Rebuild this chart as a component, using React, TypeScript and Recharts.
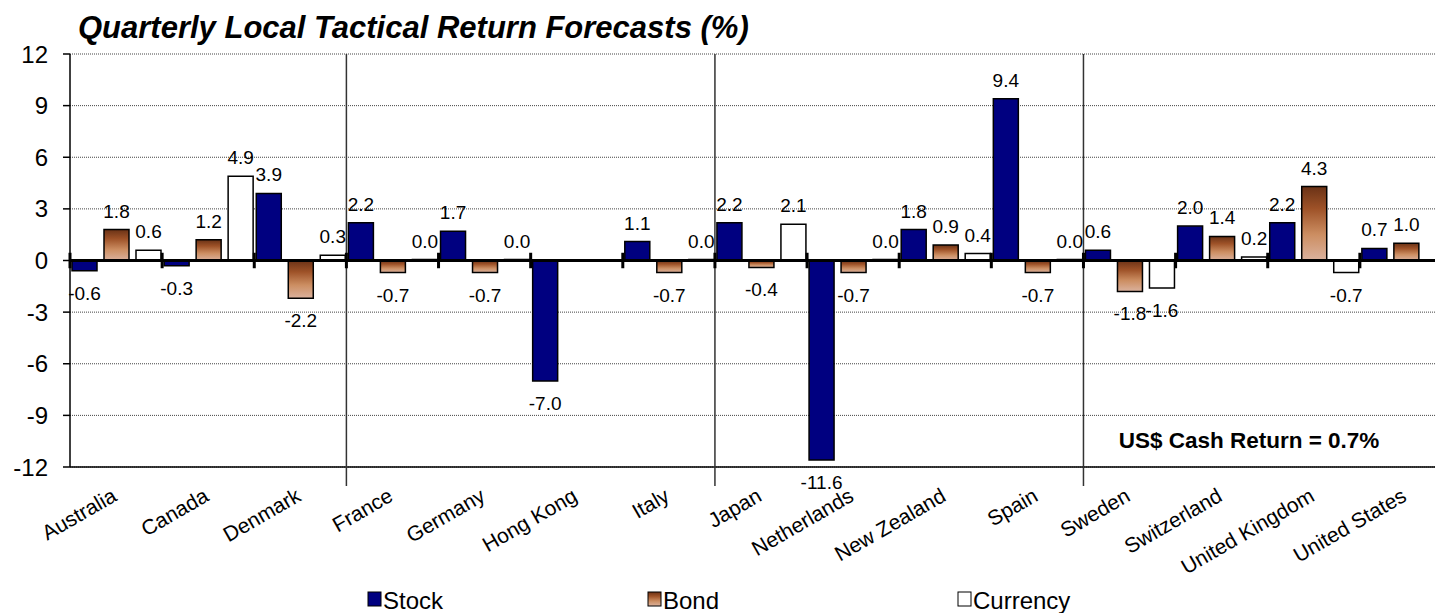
import { Bar, BarChart, CartesianGrid, LabelList, ReferenceLine, XAxis, YAxis } from "recharts";

const countries = [
  "Australia", "Canada", "Denmark", "France", "Germany", "Hong Kong", "Italy", "Japan",
  "Netherlands", "New Zealand", "Spain", "Sweden", "Switzerland", "United Kingdom", "United States",
];
const stock = [-0.6, -0.3, 3.9, 2.2, 1.7, -7.0, 1.1, 2.2, -11.6, 1.8, 9.4, 0.6, 2.0, 2.2, 0.7];
const bond = [1.8, 1.2, -2.2, -0.7, -0.7, null, -0.7, -0.4, -0.7, 0.9, -0.7, -1.8, 1.4, 4.3, 1.0];
const currency = [0.6, 4.9, 0.3, 0.0, 0.0, null, 0.0, 2.1, 0.0, 0.4, 0.0, -1.6, 0.2, -0.7, null];
const yTicks = [-12, -9, -6, -3, 0, 3, 6, 9, 12];
// groups start at these countries
const separators = ["France", "Japan", "Sweden"];
const cashNote = "US$ Cash Return = 0.7%";

const FONT = "'Liberation Sans', Arial, sans-serif";

const data = countries.map((c, i) => ({
  name: c,
  stock: stock[i],
  bond: bond[i],
  currency: currency[i],
}));

function ValueLabel(props: any) {
  const { x, y, width, height, value } = props;
  if (value == null) return null;
  const v = Number(value);
  const top = Math.min(y, y + height);
  const bottom = Math.max(y, y + height);
  const ty = v < 0 ? bottom + 29 : Math.min(top, y + height) - 12;
  return (
    <text x={x + width / 2} y={ty} textAnchor="middle" fontSize={19} fontFamily={FONT} fill="#000">
      {v.toFixed(1)}
    </text>
  );
}

function CountryTick(props: any) {
  const { x, y, payload } = props;
  const tx = x + 2;
  const ty = y + 33;
  return (
    <text
      x={tx}
      y={ty}
      textAnchor="end"
      fontSize={21}
      fontFamily={FONT}
      fill="#000"
      transform={`rotate(-30, ${tx}, ${ty})`}
    >
      {payload.value}
    </text>
  );
}

const legendItems = [
  { label: "Stock", fill: "#000080", x: 368 },
  { label: "Bond", fill: "url(#bondGrad)", x: 648 },
  { label: "Currency", fill: "#ffffff", x: 958 },
];

export default function App() {
  return (
    <div
      style={{
        position: "fixed",
        left: 0,
        top: 0,
        width: 1435,
        height: 613,
        overflow: "hidden",
        background: "#fff",
        fontFamily: FONT,
      }}
    >
      <BarChart
        width={1460}
        height={613}
        data={data}
        margin={{ top: 54, right: 8, left: 0, bottom: 86 }}
        barCategoryGap={2}
        barGap={7}
      >
        <defs>
          <linearGradient id="bondGrad" x1="0" y1="0" x2="0" y2="1">
            <stop offset="0%" stopColor="#6a3216" />
            <stop offset="30%" stopColor="#9e5228" />
            <stop offset="65%" stopColor="#cc8e62" />
            <stop offset="100%" stopColor="#dbb29e" />
          </linearGradient>
        </defs>
        <CartesianGrid vertical={false} stroke="#444" strokeDasharray="1 1" />
        <XAxis
          dataKey="name"
          interval={0}
          axisLine={false}
          tickLine={false}
          tickSize={0}
          tickMargin={0}
          height={60}
          tick={<CountryTick />}
        />
        <YAxis
          domain={[-12, 12]}
          ticks={yTicks}
          interval={0}
          width={70}
          tickSize={7}
          tickMargin={15}
          axisLine={{ stroke: "#000", strokeWidth: 1.5 }}
          tickLine={{ stroke: "#000", strokeWidth: 1.5 }}
          tick={{ fontSize: 24, fill: "#000", fontFamily: FONT }}
        />
        <ReferenceLine y={-12} stroke="#000" strokeWidth={1.5} />
        {separators.map((s) => (
          <ReferenceLine
            key={`sep-${s}`}
            segment={[{ x: s, y: 12 }, { x: s, y: -13.1 }]}
            position="start"
            ifOverflow="visible"
            stroke="#333"
            strokeWidth={1.5}
          />
        ))}
        <Bar dataKey="stock" fill="#000080" stroke="#000" strokeWidth={1.5} minPointSize={1} isAnimationActive={false}>
          <LabelList dataKey="stock" content={<ValueLabel />} />
        </Bar>
        <Bar dataKey="bond" fill="url(#bondGrad)" stroke="#000" strokeWidth={1.5} minPointSize={1} isAnimationActive={false}>
          <LabelList dataKey="bond" content={<ValueLabel />} />
        </Bar>
        <Bar dataKey="currency" fill="#ffffff" stroke="#000" strokeWidth={1.5} minPointSize={1} isAnimationActive={false}>
          <LabelList dataKey="currency" content={<ValueLabel />} />
        </Bar>
        <ReferenceLine y={0} stroke="#000" strokeWidth={3} />
        {countries.map((c) => (
          <ReferenceLine
            key={`tk-${c}`}
            segment={[{ x: c, y: 0.45 }, { x: c, y: -0.45 }]}
            position="start"
            ifOverflow="visible"
            stroke="#000"
            strokeWidth={3}
          />
        ))}
        <ReferenceLine
          segment={[
            { x: countries[countries.length - 1], y: 0.45 },
            { x: countries[countries.length - 1], y: -0.45 },
          ]}
          position="end"
          ifOverflow="visible"
          stroke="#000"
          strokeWidth={3}
        />
      </BarChart>
      <svg
        width={1435}
        height={613}
        style={{ position: "absolute", left: 0, top: 0, pointerEvents: "none" }}
      >
        <text x={78} y={38} fontSize={31} fontWeight="bold" fontStyle="italic" fontFamily={FONT} fill="#000">
          Quarterly Local Tactical Return Forecasts (%)
        </text>
        <text x={1249} y={448} textAnchor="middle" fontSize={22.5} fontWeight="bold" fontFamily={FONT} fill="#000">
          {cashNote}
        </text>
        {legendItems.map((it) => (
          <g key={it.label}>
            <rect x={it.x} y={592} width={13} height={14} fill={it.fill} stroke="#000" strokeWidth={1} />
            <text x={it.x + 15} y={609} fontSize={24} fontFamily={FONT} fill="#000">
              {it.label}
            </text>
          </g>
        ))}
      </svg>
    </div>
  );
}
